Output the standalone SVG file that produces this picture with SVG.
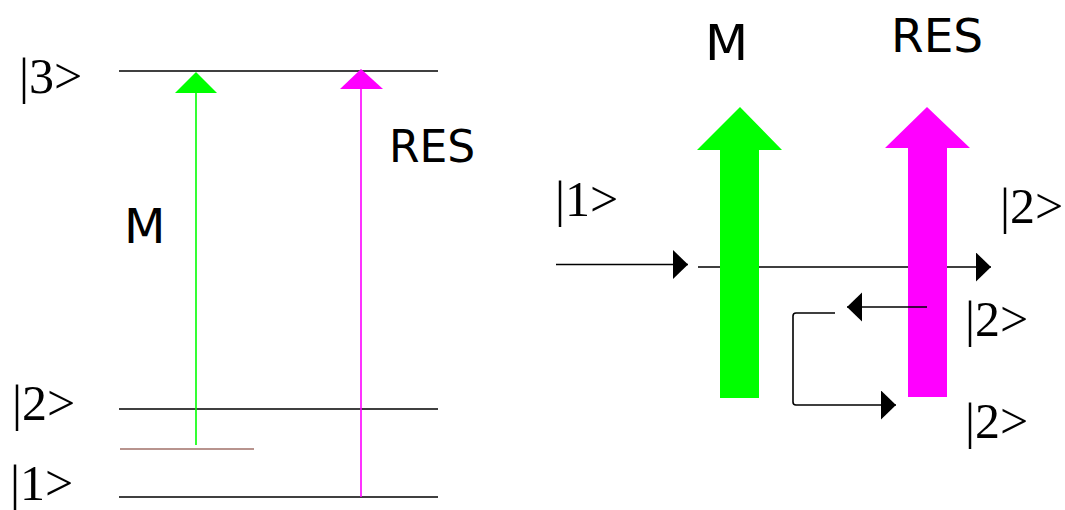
<svg xmlns="http://www.w3.org/2000/svg" width="1065" height="510" viewBox="0 0 1065 510">
  <style>
    .lvl { stroke: #000; stroke-width: 1.6; fill: none; }
    .ket { font-family: "Liberation Serif", "Times New Roman", serif; font-size: 50px; fill: #000; }
    .lab { font-family: "DejaVu Sans", "Open Sans", sans-serif; fill: #000; }
    .blk { stroke: #000; stroke-width: 1.6; fill: none; }
  </style>
  <defs>
    <marker id="ah" markerUnits="userSpaceOnUse" markerWidth="16" markerHeight="30" refX="15" refY="14.5" orient="auto">
      <path d="M0,0 L15,14.5 L0,29 Z" fill="#000"/>
    </marker>
  </defs>
  <rect width="1065" height="510" fill="#fff"/>

  <g id="level3">
    <line class="lvl" x1="119" y1="71" x2="438" y2="71"/>
    <text class="ket" x="19" y="93">|3&gt;</text>
  </g>
  <g id="level2">
    <line class="lvl" x1="119" y1="409" x2="438" y2="409"/>
    <text class="ket" x="12" y="420">|2&gt;</text>
  </g>
  <g id="virtual-level">
    <line x1="120" y1="449" x2="254" y2="449" stroke="#a07068" stroke-width="1.6"/>
  </g>
  <g id="level1">
    <line class="lvl" x1="119" y1="497" x2="438" y2="497"/>
    <text class="ket" x="10" y="500">|1&gt;</text>
  </g>
  <g id="label-M-left">
    <text class="lab" x="124" y="243" font-size="48">M</text>
  </g>
  <g id="label-RES-left">
    <text class="lab" x="389" y="162" font-size="44">RES</text>
  </g>

  <g id="beam-M">
    <polygon points="697,150 740,107 782,150 759,150 759,398 720,398 720,150" fill="#00ff00"/>
    <text class="lab" x="705" y="60" font-size="50">M</text>
  </g>
  <g id="beam-RES">
    <polygon points="885,148 927,107 970,148 947,148 947,397 908,397 908,148" fill="#ff00ff"/>
    <text class="lab" x="891" y="52" font-size="47">RES</text>
  </g>
  <g id="in-state">
    <text class="ket" x="555" y="216">|1&gt;</text>
  </g>
  <g id="out-state">
    <text class="ket" x="1000" y="223">|2&gt;</text>
  </g>
  <g id="state-mid">
    <text class="ket" x="965" y="336">|2&gt;</text>
  </g>
  <g id="state-bottom">
    <text class="ket" x="965" y="438">|2&gt;</text>
  </g>

  <g id="connectors">
    <line x1="196" y1="445" x2="196" y2="92" stroke="#00ff00" stroke-width="1.6"/>
    <polygon points="196,72 175,93 217,93" fill="#00ff00"/>
    <line x1="361" y1="497" x2="361" y2="88" stroke="#ff00ff" stroke-width="1.6"/>
    <polygon points="361,69 340,89 383,89" fill="#ff00ff"/>

    <line class="blk" x1="556" y1="264.5" x2="688" y2="264.5" marker-end="url(#ah)"/>
    <path class="blk" d="M698,267 H720 M759,267 H908 M947,267 H991" marker-end="url(#ah)"/>
    <line class="blk" x1="927" y1="307" x2="847" y2="307" marker-end="url(#ah)"/>
    <path class="blk" d="M835,313 H796 Q793,313 793,316 V402 Q793,405 796,405 H896" marker-end="url(#ah)"/>
  </g>
</svg>
